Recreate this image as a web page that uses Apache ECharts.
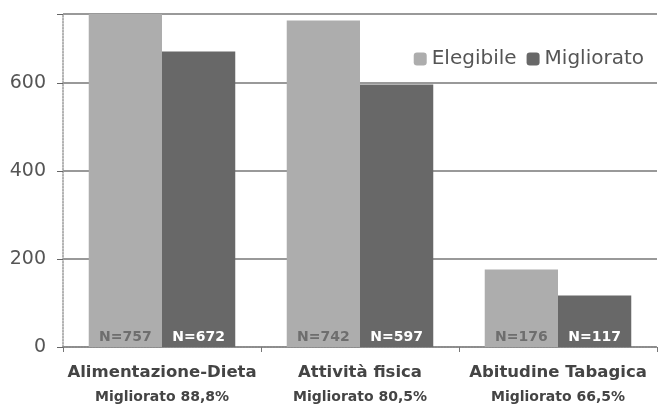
<!DOCTYPE html>
<html lang="it">
<head>
    <meta charset="UTF-8">
    <title>Elegibile / Migliorato</title>
    <style>
        * { padding: 0; margin: 0; }
        .EC { width: 658px; height: 406px; }
    </style>
</head>
<body>
<div class="EC"></div>
<script src="https://cdn.jsdelivr.net/npm/echarts@6/dist/echarts.min.js"></script>
<script>
    const categories = ['Alimentazione-Dieta', 'Attività fisica', 'Abitudine Tabagica']
    const subLabels = ['Migliorato 88,8%', 'Migliorato 80,5%', 'Migliorato 66,5%']
    const elegibile = [757, 742, 176]
    const migliorato = [672, 597, 117]
    const yTicks = [0, 200, 400, 600]

    const font = 'DejaVu Sans'
    let EC = echarts.init(document.querySelector('.EC'))
    let option = {
        backgroundColor: '#fff',
        animation: false,
        textStyle: { fontFamily: font },
        grid: { left: 63, right: 1, top: 14, bottom: 59 },
        legend: {
            data: ['Elegibile', 'Migliorato'],
            right: 9,
            top: 44,
            itemWidth: 13,
            itemHeight: 13,
            itemGap: 10,
            textStyle: { fontSize: 20, color: '#555', fontFamily: font }
        },
        xAxis: {
            type: 'category',
            data: categories,
            axisLine: { lineStyle: { color: '#888', type: 'dotted', width: 1.5 } },
            axisTick: { show: true, length: 5, lineStyle: { color: '#777' } },
            axisLabel: {
                margin: 13,
                formatter: (v, i) => '{a|' + v + '}\n{b|' + subLabels[i] + '}',
                rich: {
                    a: { fontSize: 16.5, fontWeight: 'bold', color: '#444', lineHeight: 25, fontFamily: font },
                    b: { fontSize: 14, fontWeight: 'bold', color: '#444', lineHeight: 25, fontFamily: font }
                }
            }
        },
        yAxis: {
            type: 'value',
            min: 0,
            max: 757,
            interval: 200,
            axisLine: { show: true, lineStyle: { color: '#999', type: 'dotted', width: 1.5 } },
            axisTick: { show: true, length: 6, lineStyle: { color: '#666' } },
            axisLabel: {
                margin: 17,
                fontSize: 19,
                color: '#555',
                formatter: v => yTicks.includes(v) ? String(v) : ''
            },
            splitLine: { lineStyle: { color: '#777', width: 1.5 } }
        },
        series: [{
            name: 'Elegibile',
            type: 'bar',
            data: elegibile,
            barGap: '0%',
            barCategoryGap: '26%',
            itemStyle: { color: '#adadad' },
            label: {
                show: true,
                position: 'insideBottom',
                distance: 3,
                formatter: p => 'N=' + p.value,
                fontSize: 14,
                fontWeight: 'bold',
                color: '#6e6e6e'
            }
        }, {
            name: 'Migliorato',
            type: 'bar',
            data: migliorato,
            itemStyle: { color: '#686868' },
            label: {
                show: true,
                position: 'insideBottom',
                distance: 3,
                formatter: p => 'N=' + p.value,
                fontSize: 14,
                fontWeight: 'bold',
                color: '#fff'
            }
        }]
    }
    EC.setOption(option)
</script>
</body>
</html>
